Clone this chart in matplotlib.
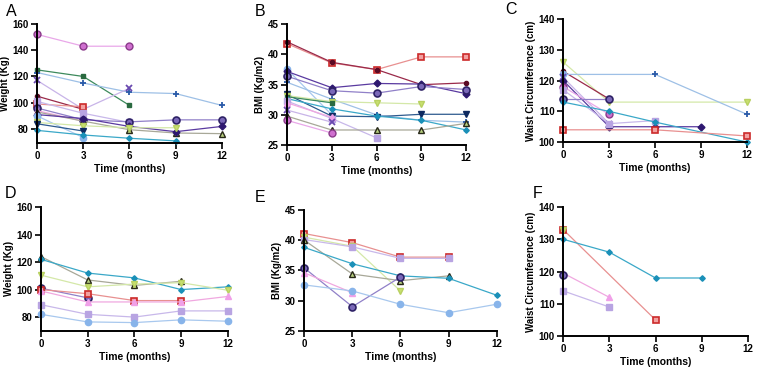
import matplotlib
matplotlib.use('Agg')
import matplotlib.pyplot as plt
import numpy as np

plt.rcParams['font.family'] = ['Liberation Sans', 'DejaVu Sans']

# time points (months)
months = [0, 3, 6, 9, 12]

# A: weight (Kg), first group
weight_a = {
    'magenta': [152, 143, 143, None, None],
    'green': [125, 120, 98, None, None],
    'blueplus': [123, 115, 108, 107, 98],
    'purplex': [117, 95, 111, None, None],
    'maroon': [105, 95, None, None, None],
    'red': [99, 97, None, None, None],
    'lavender': [101, 92, 85, None, None],
    'purplecircle': [96, 87, 85.5, 87, 87],
    'pink': [94, 86, None, None, None],
    'olive': [93, 86, 79.5, 77, 76.5],
    'diamond': [91, 88, 82, 78, 82],
    'skyblue': [90, 73.5, None, None, None],
    'lime': [85, 82.5, 81, 81, None],
    'navy': [84, 78.5, None, None, None],
    'cyan': [79, 75.5, 73, 71, None],
}

# B: BMI (Kg/m2), first group
bmi_b = {
    'red': [41.8, 38.6, 37.5, 39.6, 39.6],
    'maroon': [42.1, 38.7, 37.5, 35.0, 35.3],
    'skyblue': [37.6, 30.0, None, None, None],
    'diamond': [37.2, 34.5, 35.2, 35.1, 33.5],
    'purplecircle': [36.4, 34.0, 33.6, 34.7, 34.2],
    'blueplus': [35.4, 32.6, 30.0, 29.1, 28.8],
    'navy': [33.4, 29.8, 29.7, 30.1, 30.1],
    'lime': [33.2, 32.2, 32.0, 31.8, None],
    'green': [33.0, 32.0, None, None, None],
    'cyan': [32.7, 31.0, 29.8, 29.1, 27.5],
    'lavender': [32.3, 29.4, 26.2, None, None],
    'pink': [32.0, 29.6, None, None, None],
    'purplex': [30.8, 28.8, None, None, None],
    'olive': [29.8, 27.5, 27.5, 27.5, 28.6],
    'magenta': [29.1, 27.0, None, None, None],
}

# C: waist circumference (cm), first group
waist_c = {
    'lime': [126, 113, None, None, 113],
    'maroon': [123, 114, None, None, None],
    'blueplus': [122, None, 122, None, 109],
    'skyblue': [122, None, None, None, None],
    'purplex': [121, 106, None, None, None],
    'diamond': [120, 105, 105, 105, None],
    'magenta': [118, 109, None, None, None],
    'lavender': [117, 106, 107, None, None],
    'purplecircle': [114, 114, None, None, None],
    'cyan': [113, 110, 106.5, None, 100],
    'red': [104, None, 104, None, 102],
}

# D: weight (Kg), second group
weight_d = {
    'olive': [124, 107, 103, 106, None],
    'cyan': [122, 112, 108.5, 100, 102],
    'lime': [110.5, 102, 104, 105, 99.5],
    'purplecircle': [101, 94, None, None, None],
    'red': [100, 97, 92, 92, None],
    'pink': [99, 91, 91, 91, 95],
    'lavender': [89, 82, 80, 84.5, 84.5],
    'skyblue': [82, 76.5, 76, 78, 77],
}

# E: BMI (Kg/m2), second group
bmi_e = {
    'red': [41.1, 39.6, 37.2, 37.2, None],
    'lime': [40.5, 39.0, 31.6, None, None],
    'lavender': [40.1, 38.9, 37.0, 37.0, None],
    'olive': [40.0, 34.4, 33.3, 34.1, None],
    'cyan': [38.8, 36.1, 34.1, 33.7, 30.9],
    'purplecircle': [35.4, 29.0, 33.9, None, None],
    'pink': [34.6, 31.3, None, None, None],
    'skyblue': [32.6, 31.6, 29.4, 28.0, 29.4],
}

# F: waist circumference (cm), second group
waist_f = {
    'red': [133, None, 105, None, None],
    'lime': [133, None, None, None, None],
    'cyan': [130, 126, 118, 118, None],
    'pink': [119.5, 112, None, None, None],
    'purplecircle': [119, None, None, None, None],
    'lavender': [114, 109, None, None, None],
}

styles = {
    'magenta': dict(color='#e9a8e9', marker='o', mfc='#cf6fcf', mec='#8a3a8a', ms=5),
    'green': dict(color='#3d8a5c', marker='s', mfc='#2a6a40', mec='#2a6a40', ms=2.5),
    'blueplus': dict(color='#9ec0e6', marker='+', mfc='#2a5aa8', mec='#2a5aa8', ms=5, mew=1.3),
    'purplex': dict(color='#c8b4e8', marker='x', mfc='#6a4ab0', mec='#6a4ab0', ms=4.5, mew=1.3),
    'red': dict(color='#e89090', marker='s', mfc='#f2a0a0', mec='#cc2a2a', ms=5, mew=1.2),
    'maroon': dict(color='#9a2a4a', marker='o', mfc='#5a0a24', mec='#5a0a24', ms=3),
    'purplecircle': dict(color='#9080c8', marker='o', mfc='#7a68b8', mec='#2e2266', ms=5, mew=1.2),
    'diamond': dict(color='#5a3aa0', marker='D', mfc='#2e1870', mec='#2e1870', ms=3.5),
    'olive': dict(color='#a8a898', marker='^', mfc='#b8d080', mec='#282818', ms=4.5, mew=1.0),
    'lime': dict(color='#d4e8a8', marker='v', mfc='#c8e070', mec='#b8d060', ms=4),
    'navy': dict(color='#2e5a8e', marker='v', mfc='#0e2a60', mec='#0e2a60', ms=4.5),
    'skyblue': dict(color='#a8c8ee', marker='o', mfc='#88b4ea', mec='#88b4ea', ms=4.5),
    'cyan': dict(color='#3aa8c8', marker='D', mfc='#1a90b8', mec='#1a90b8', ms=2.8),
    'lavender': dict(color='#c8b8ea', marker='s', mfc='#b8a4e2', mec='#b8a4e2', ms=4.5),
    'pink': dict(color='#f0a8e0', marker='^', mfc='#f0a0e8', mec='#f0a0e8', ms=4.5),
}

panels = [
    ('A', weight_a, 'Weight (Kg)', (69.5, 160), [80, 100, 120, 140, 160], [0.049, 0.617, 0.244, 0.319]),
    ('B', bmi_b, 'BMI (Kg/m2)', (25, 45), [25, 30, 35, 40, 45], [0.379, 0.611, 0.237, 0.324]),
    ('C', waist_c, 'Waist Circumference (cm)', (100, 140), [100, 110, 120, 130, 140], [0.744, 0.619, 0.243, 0.330]),
    ('D', weight_d, 'Weight (Kg)', (70, 160), [80, 100, 120, 140, 160], [0.054, 0.113, 0.247, 0.332]),
    ('E', bmi_e, 'BMI (Kg/m2)', (25, 45), [25, 30, 35, 40, 45], [0.402, 0.113, 0.254, 0.324]),
    ('F', waist_f, 'Waist Circumference (cm)', (100, 140), [100, 110, 120, 130, 140], [0.744, 0.099, 0.244, 0.346]),
]

letter_pos = {'A': (6, 12), 'B': (255, 12), 'C': (505, 10), 'D': (5, 193), 'E': (255, 197), 'F': (533, 193)}

fig = plt.figure(figsize=(7.57, 3.73), dpi=100)

for letter, data, ylabel, ylim, yticks, rect in panels:
    ax = fig.add_axes(rect)
    for name, vals in data.items():
        x = [m for m, v in zip(months, vals) if v is not None]
        y = [v for v in vals if v is not None]
        ax.plot(x, y, lw=0.9, clip_on=False, **styles[name])
    ax.set_xlim(0, 12)
    ax.set_ylim(*ylim)
    ax.set_xticks(months)
    ax.set_yticks(yticks)
    for s in ['top', 'right']:
        ax.spines[s].set_visible(False)
    for s in ['left', 'bottom']:
        ax.spines[s].set_linewidth(1.4)
    ax.tick_params(width=1.2, length=4, labelsize=7, pad=2)
    for lab in ax.get_xticklabels() + ax.get_yticklabels():
        lab.set_fontweight('bold')
    ax.set_xlabel('Time (months)', fontsize=7.5, fontweight='bold', labelpad=2)
    ax.set_ylabel(ylabel, fontsize=7, fontweight='bold', labelpad=2)
    lx, ly = letter_pos[letter]
    fig.text(lx / 757, 1 - ly / 373, letter, fontsize=11.5, va='center', ha='left')

fig.savefig('out.png', dpi=100)
